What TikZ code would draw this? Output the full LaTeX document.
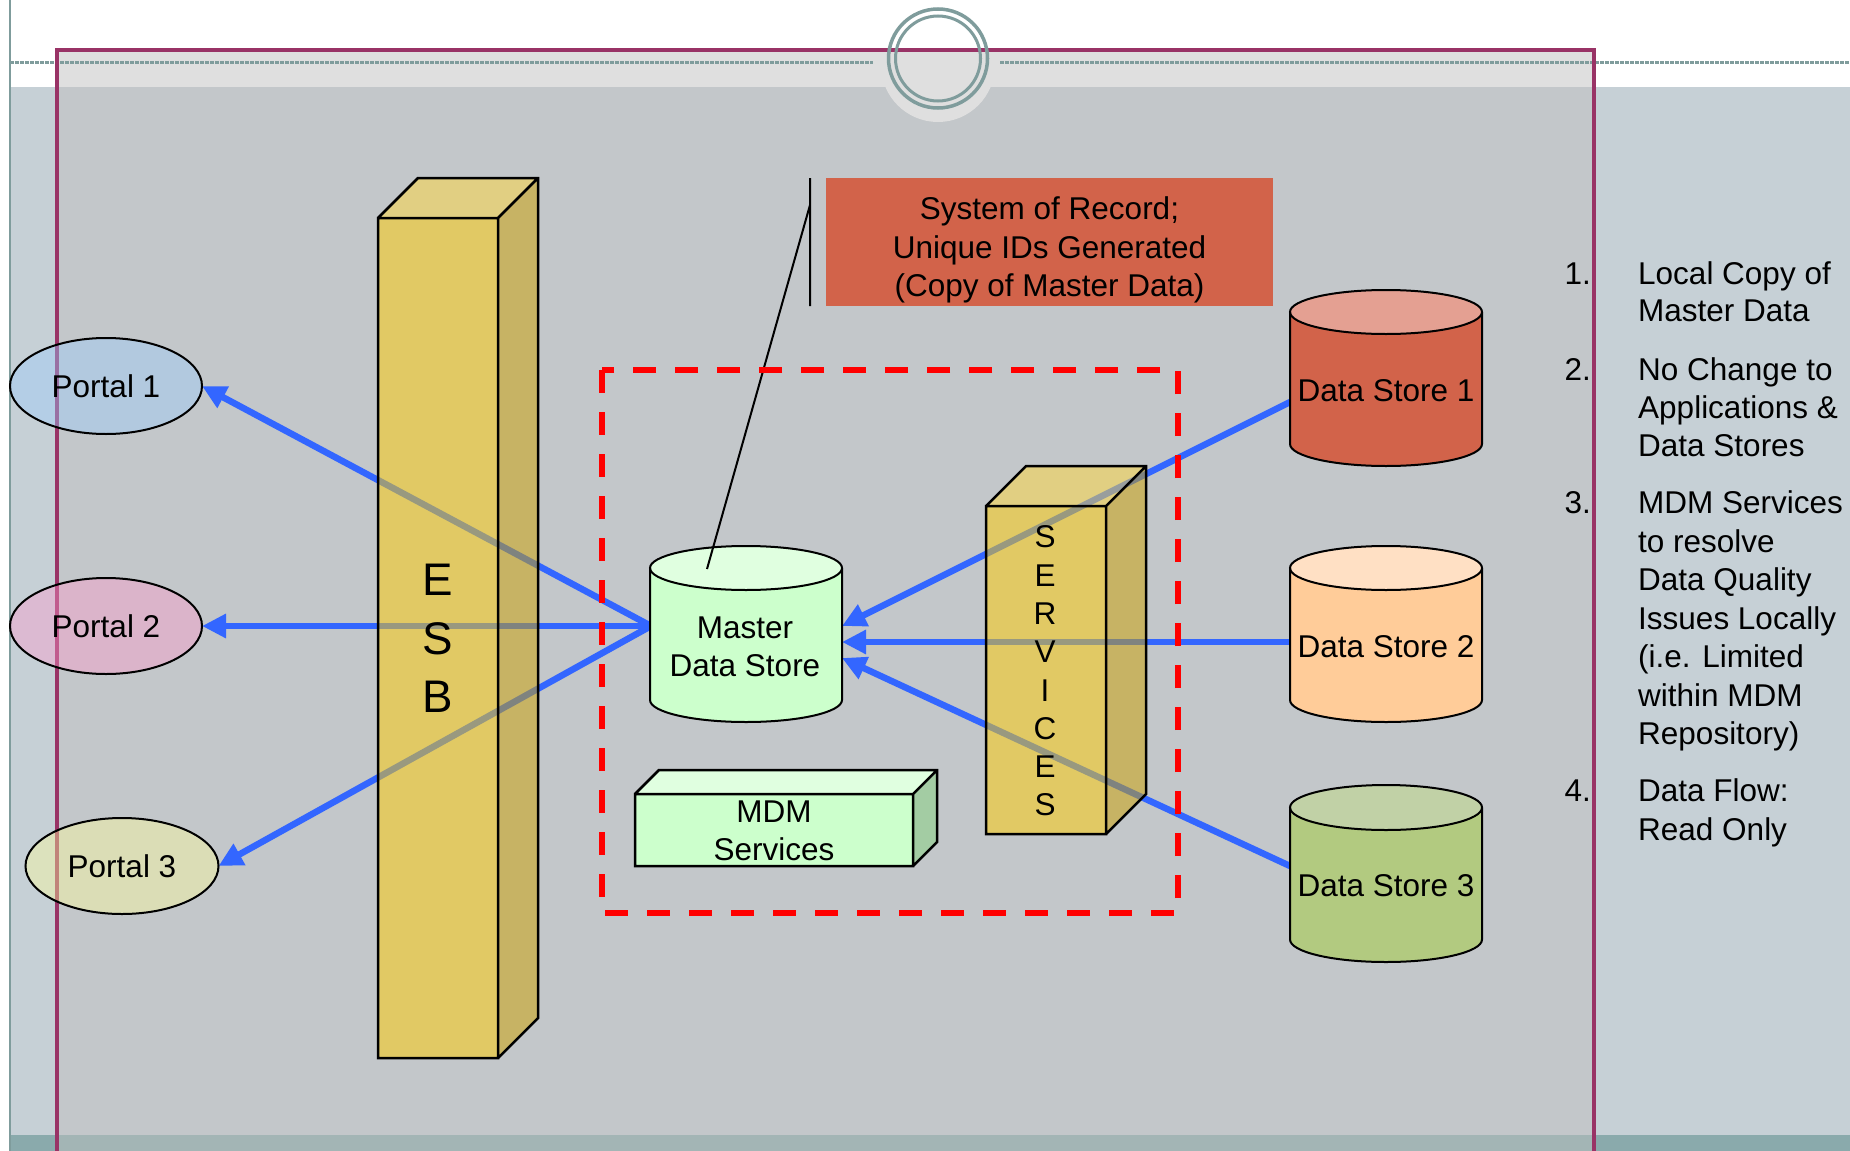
\documentclass[tikz,border=0pt]{standalone}
\usepackage{fontspec}
\setmainfont{Liberation Sans}
\usetikzlibrary{arrows.meta,shapes.geometric}
\definecolor{bgout}{RGB}{198,208,214}
\definecolor{bgin}{RGB}{195,199,202}
\definecolor{topgrey}{RGB}{223,223,223}
\definecolor{stripout}{RGB}{138,170,172}
\definecolor{stripin}{RGB}{163,181,181}
\definecolor{tealln}{RGB}{127,156,156}
\definecolor{framecol}{RGB}{153,51,102}
\definecolor{arrowblue}{RGB}{51,102,255}
\definecolor{gold}{RGB}{255,204,0}
\definecolor{goldtop}{RGB}{255,215,60}
\definecolor{goldside}{RGB}{204,160,0}
\definecolor{mint}{RGB}{204,255,204}
\definecolor{minttop}{RGB}{224,255,224}
\definecolor{mintside}{RGB}{163,204,163}
\definecolor{dsa}{RGB}{210,99,74}
\definecolor{dsatop}{RGB}{228,160,146}
\definecolor{dsb}{RGB}{255,204,153}
\definecolor{dsbtop}{RGB}{255,224,196}
\definecolor{dsc}{RGB}{178,202,128}
\definecolor{dsctop}{RGB}{193,209,166}
\definecolor{sorcol}{RGB}{210,99,74}
\definecolor{pa}{RGB}{153,204,255}
\definecolor{pb}{RGB}{255,153,204}
\definecolor{pc}{RGB}{255,255,153}

\tikzset{
  prismfill/.style={},
  prismline/.style={draw=black,line width=2.5pt,line join=miter},
  flow/.style={arrowblue,line width=6.5pt,-{Triangle[length=24pt,width=23pt]}},
  portal/.style={ellipse,draw=black,line width=2pt,fill opacity=0.4,text opacity=1,
    minimum width=192pt,minimum height=96pt,inner sep=0pt,text height=22.6pt,text depth=0pt},
  txt/.style={inner sep=0pt,text height=22.6pt,text depth=0pt},
  multi/.style={inner sep=0pt,align=center},
  cylline/.style={draw=black,line width=2pt},
}
% prism: #1 left x, #2 front top y, #3 right x, #4 bottom y, #5 depth, #6 front, #7 top, #8 side
\newcommand\myprism[8]{%
  \fill[#6,prismfill] (#1,#2) rectangle (#3,#4);
  \fill[#7,prismfill] (#1,#2) -- (#1+#5,#2-#5) -- (#3+#5,#2-#5) -- (#3,#2) -- cycle;
  \fill[#8,prismfill] (#3,#2) -- (#3+#5,#2-#5) -- (#3+#5,#4-#5) -- (#3,#4) -- cycle;
  \draw[prismline] (#1,#2) rectangle (#3,#4)
    (#1,#2) -- (#1+#5,#2-#5) -- (#3+#5,#2-#5) -- (#3+#5,#4-#5) -- (#3,#4)
    (#3,#2) -- (#3+#5,#2-#5);
}
% cylinder: #1 cx, #2 top y, #3 rx, #4 ry, #5 bottom y, #6 body, #7 top
\newcommand\mycyl[7]{%
  \fill[#6] (#1-#3,#2+#4) -- (#1-#3,#5-#4)
    arc[start angle=180,end angle=360,x radius=#3pt,y radius=#4pt] -- (#1+#3,#2+#4) -- cycle;
  \fill[#7] (#1,#2+#4) ellipse[x radius=#3pt,y radius=#4pt];
  \draw[cylline] (#1-#3,#2+#4) -- (#1-#3,#5-#4)
    arc[start angle=180,end angle=360,x radius=#3pt,y radius=#4pt] -- (#1+#3,#2+#4);
  \draw[cylline] (#1,#2+#4) ellipse[x radius=#3pt,y radius=#4pt];
}

\begin{document}
\begin{tikzpicture}[x=1pt,y=-1pt,font=\fontsize{31.5}{38.3}\selectfont]
\useasboundingbox (0,0) rectangle (1850,1151);
% backgrounds
\fill[white] (0,0) rectangle (1850,1151);
\fill[bgout] (10,87) rectangle (1850,1135);
\fill[stripout] (10,1135) rectangle (1850,1151);
\fill[topgrey] (57,50) rectangle (1594,87);
\fill[bgin] (57,87) rectangle (1594,1135);
\fill[stripin] (57,1135) rectangle (1594,1151);
\begin{scope}
  \clip (850,87) rectangle (1030,140);
  \fill[topgrey] (938,65) circle[radius=57pt];
\end{scope}
\draw[tealln,line width=1.5pt] (10,0) -- (10,1151);
\draw[tealln,line width=3pt,dash pattern=on 3.5pt off 1.5pt] (10,62) -- (873,62) (1000,62) -- (1850,62);
% frame
\draw[framecol,line width=4pt,line join=miter] (57,1151) -- (57,50) -- (1594,50) -- (1594,1151);
% ring
\draw[tealln,line width=3.5pt] (938,58.5) circle[radius=49.5pt];
\draw[tealln,line width=3pt] (938,58.5) circle[radius=42.5pt];

% system of record box
\node[fill=sorcol,minimum width=447pt,minimum height=128pt,inner sep=0pt,anchor=north west] (sor) at (826,178) {};
\node[multi] (sortext) at (1049.5,250) {System of Record;\\Unique IDs Generated\\(Copy of Master Data)};

% connector end points
\coordinate (mL) at (651,626);
\coordinate (mR1) at (842,626);
\coordinate (mR2) at (842,642);
\coordinate (mR3) at (842,658);
\coordinate (d1) at (1290,402);
\coordinate (d2) at (1290,642);
\coordinate (d3) at (1290,866);

\path (106,386) coordinate (p1c) (106,626) coordinate (p2c) (122,866) coordinate (p3c);
\coordinate (p1e) at (202,386);
\coordinate (p2e) at (202,626);
\coordinate (p3e) at (218.5,866);

% arrows
\draw[flow] (mL) -- (p1e);
\draw[flow] (mL) -- (p2e);
\draw[flow] (mL) -- (p3e);
\draw[flow] (d1) -- (mR1);
\draw[flow] (d2) -- (mR2);
\draw[flow] (d3) -- (mR3);

% ESB and SERVICES columns (semi-transparent)
\begin{scope}[prismfill/.style={fill opacity=0.5}]
  \myprism{378}{218}{498}{1058}{40}{gold}{goldtop}{goldside}
  \myprism{986}{506}{1106}{834}{40}{gold}{goldtop}{goldside}
\end{scope}
\node[multi,font=\fontsize{45.7}{58.5}\selectfont] (esb) at (438,638.5) {E\\S\\B};
\node[multi] (services) at (1045,671) {S\\E\\R\\V\\I\\C\\E\\S};

% master data store
\mycyl{746}{546}{96}{22}{722}{mint}{minttop}
\node[multi] (mds) at (745,647) {Master\\Data Store};

% MDM services box
\myprism{635}{794}{913}{866}{24}{mint}{minttop}{mintside}
\node[multi] (mdm) at (774,831) {MDM\\Services};

% data stores
\mycyl{1386}{290}{96}{22}{466}{dsa}{dsatop}
\node[txt] (ds1) at (1386,390) {Data Store 1};
\mycyl{1386}{546}{96}{22}{722}{dsb}{dsbtop}
\node[txt] (ds2) at (1386,646.5) {Data Store 2};
\mycyl{1386}{785}{96}{22.5}{962}{dsc}{dsctop}
\node[txt] (ds3) at (1386,885) {Data Store 3};

% callout line
\coordinate (c1) at (810,178);
\coordinate (c2) at (810,306);
\coordinate (c3) at (810,205);
\coordinate (c4) at (707,569);
\draw[black,line width=2pt] (c1) -- (c2) (c3) -- (c4);

% MDM zone
\draw[red,line width=5.3pt,dash pattern=on 23pt off 19pt] (602,370) rectangle (1178,913);

% portals
\node[portal,fill=pa] (p1) at (p1c) {Portal 1};
\node[portal,fill=pb] (p2) at (p2c) {Portal 2};
\node[portal,fill=pc,minimum width=193pt] (p3) at (p3c) {Portal 3};

% list
\node[txt,anchor=east] (n1) at (1591,273) {1.};
\node[txt,anchor=west] (l1a) at (1638,273) {Local Copy of};
\node[txt,anchor=west] (l1b) at (1638,310) {Master Data};
\node[txt,anchor=east] (n2) at (1591,369) {2.};
\node[txt,anchor=west] (l2a) at (1638,369) {No Change to};
\node[txt,anchor=west] (l2b) at (1638,407) {Applications \&};
\node[txt,anchor=west] (l2c) at (1638,445) {Data Stores};
\node[txt,anchor=east] (n3) at (1591,502) {3.};
\node[txt,anchor=west] (l3a) at (1638,502) {MDM Services};
\node[txt,anchor=west] (l3b) at (1638,541) {to resolve};
\node[txt,anchor=west] (l3c) at (1638,579.5) {Data Quality};
\node[txt,anchor=west] (l3d) at (1638,618) {Issues Locally};
\node[txt,anchor=west] (l3e) at (1638,656.5) {(i.e. Limited};
\node[txt,anchor=west] (l3f) at (1638,695) {within MDM};
\node[txt,anchor=west] (l3g) at (1638,733.5) {Repository)};
\node[txt,anchor=east] (n4) at (1591,790) {4.};
\node[txt,anchor=west] (l4a) at (1638,790) {Data Flow:};
\node[txt,anchor=west] (l4b) at (1638,829) {Read Only};
\end{tikzpicture}
\end{document}
